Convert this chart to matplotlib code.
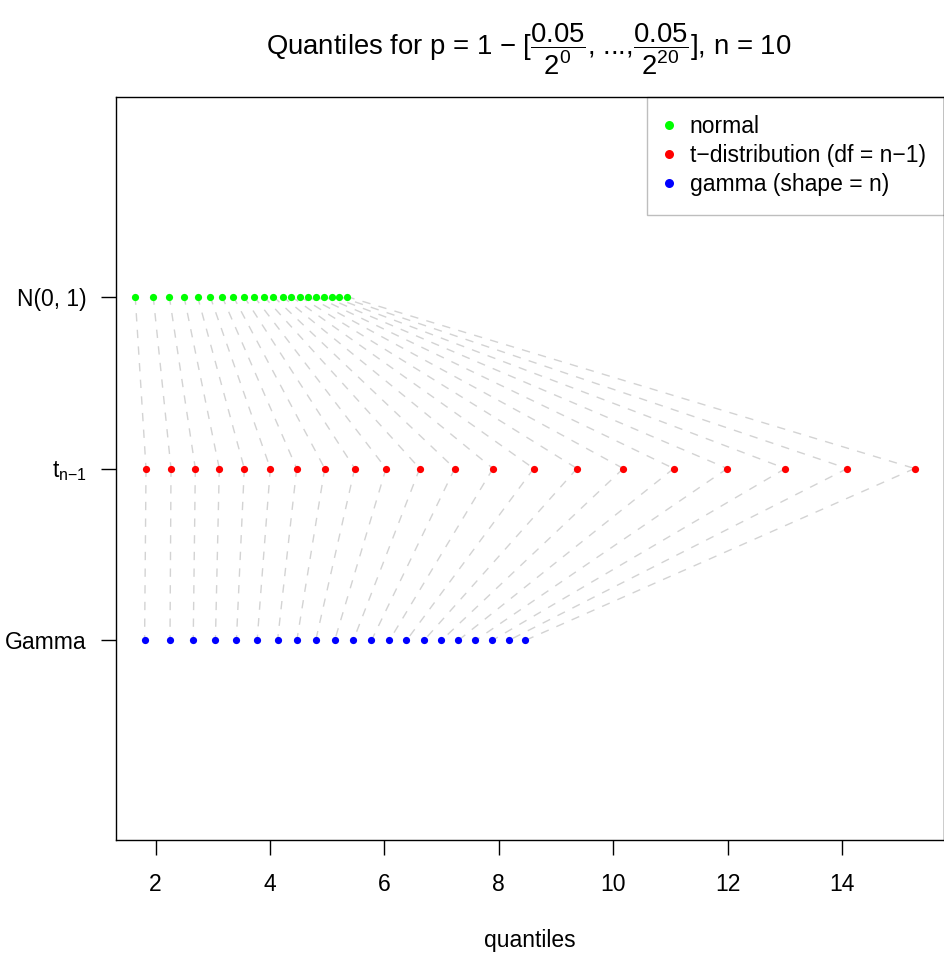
import matplotlib
matplotlib.use("Agg")
import matplotlib.pyplot as plt
from matplotlib.lines import Line2D

plt.rcParams['font.family'] = ['Liberation Sans', 'DejaVu Sans']
plt.rcParams['mathtext.fontset'] = 'custom'
plt.rcParams['mathtext.rm'] = 'Liberation Sans'
plt.rcParams['mathtext.it'] = 'Liberation Sans'
plt.rcParams['mathtext.bf'] = 'Liberation Sans:bold'

# quantiles (p = 1 - 0.05/2^k, k = 0..20)
normal_q = [1.645, 1.960, 2.241, 2.498, 2.735, 2.955, 3.163, 3.359, 3.546, 3.724, 3.896,
            4.061, 4.220, 4.374, 4.523, 4.668, 4.809, 4.946, 5.080, 5.211, 5.339]
t_q = [1.834, 2.271, 2.696, 3.115, 3.552, 4.007, 4.468, 4.958, 5.482, 6.029, 6.618,
       7.230, 7.899, 8.611, 9.368, 10.177, 11.058, 11.995, 13.009, 14.092, 15.270]
gamma_q = [1.809, 2.253, 2.659, 3.047, 3.414, 3.776, 4.133, 4.470, 4.800, 5.131, 5.456,
           5.774, 6.087, 6.386, 6.692, 6.997, 7.291, 7.592, 7.884, 8.172, 8.459]

levels = [3, 2, 1]
level_labels = ['N(0, 1)', r'$\mathrm{t}_{\mathrm{n{-}1}}$', 'Gamma']
legend_labels = ['normal', 't\u2212distribution (df = n\u22121)', 'gamma (shape = n)']
colors = ['#00FF00', '#FF0000', '#0000FF']
fs = 16.5

fig = plt.figure(figsize=(9.45, 9.56), dpi=100)
ax = fig.add_axes([116.5 / 945, 116 / 956, (944 - 116.5) / 945, 743 / 956])

# connecting dashed lines
for a, b, c in zip(normal_q, t_q, gamma_q):
    ax.plot([a, b], [levels[0], levels[1]], color='#D3D3D3', lw=1, dashes=(6, 6), zorder=1)
    ax.plot([b, c], [levels[1], levels[2]], color='#D3D3D3', lw=1, dashes=(6, 6), zorder=1)

for q, lev, col in zip([normal_q, t_q, gamma_q], levels, colors):
    ax.plot(q, [lev] * len(q), 'o', color=col, ms=5.2, mew=0, zorder=3)

ax.set_xlim(1.318, 15.783)
ax.set_ylim(-0.16, 4.16)
ax.set_xticks([2, 4, 6, 8, 10, 12, 14])
ax.set_yticks(levels)
ax.set_yticklabels(level_labels)
ax.tick_params(axis='both', direction='out', length=10.8, width=1, labelsize=fs)
ax.tick_params(axis='x', pad=13)
ax.tick_params(axis='y', pad=10.5)
for sp in ax.spines.values():
    sp.set_linewidth(1.0)
    sp.set_zorder(6)
ax.set_xlabel('quantiles', fontsize=fs, labelpad=24)

handles = [Line2D([], [], marker='o', ls='', color=c, ms=6.5, mew=0) for c in colors]
leg = ax.legend(handles, legend_labels, loc='upper right', borderaxespad=0, fontsize=fs,
                frameon=True, fancybox=False, edgecolor='#BEBEBE', framealpha=1,
                borderpad=0.8, handlelength=0.3, handletextpad=0.75, labelspacing=0.26)
leg.get_frame().set_linewidth(1.0)
leg.set_zorder(5)

fig.text(529 / 945, 1 - 55 / 956,
         r'Quantiles for p = 1 $-$ [$\dfrac{0.05}{2^0}$, ...,$\dfrac{0.05}{2^{20}}$], n = 10',
         ha='center', va='baseline', fontsize=19.8)

fig.savefig('out.png', dpi=100)
